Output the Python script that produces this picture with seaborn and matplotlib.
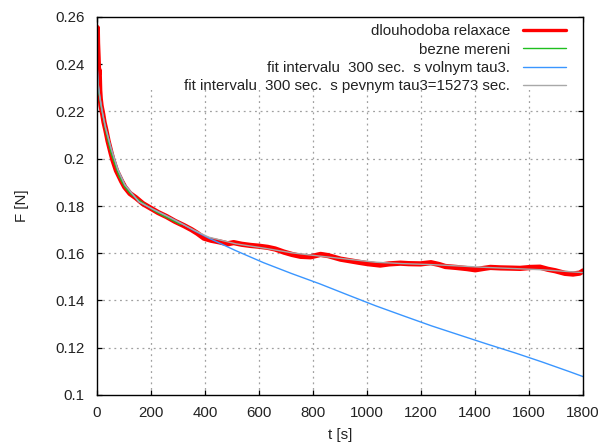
import matplotlib
matplotlib.use("Agg")
import matplotlib.pyplot as plt
import seaborn as sns
import pandas as pd
from matplotlib.patches import Rectangle

# ---- data ----
t_long = [0, 1, 2, 4, 6, 8, 10, 12, 15, 21, 26, 33, 41, 52, 59, 72, 91, 103, 122,
          144, 170, 200, 227, 258, 289, 322, 350, 371, 396, 423, 454, 484, 506, 536,
          569, 598, 632, 660, 692, 722, 754, 791, 828, 856, 902, 938, 969, 1002, 1049,
          1082, 1124, 1154, 1198, 1237, 1268, 1290, 1330, 1371, 1401, 1433, 1457,
          1495, 1536, 1567, 1608, 1641, 1670, 1697, 1733, 1763, 1788, 1800]
F_long = [0.242, 0.2555, 0.249, 0.243, 0.236, 0.2375, 0.229, 0.2255, 0.2225, 0.219,
          0.2155, 0.212, 0.2075, 0.2025, 0.1995, 0.195, 0.1905, 0.188, 0.1853,
          0.1835, 0.181, 0.179, 0.1772, 0.1755, 0.1735, 0.1717, 0.1700, 0.1685,
          0.1664, 0.1655, 0.1648, 0.1640, 0.1645, 0.1638, 0.1633, 0.1630, 0.1625,
          0.1618, 0.1605, 0.1595, 0.1587, 0.1585, 0.1595, 0.1590, 0.1575, 0.1568,
          0.1562, 0.1556, 0.1550, 0.1555, 0.1558, 0.1556, 0.1555, 0.1560, 0.1552,
          0.1544, 0.1540, 0.1535, 0.1530, 0.1536, 0.1540, 0.1538, 0.1537, 0.1536,
          0.1540, 0.1541, 0.1532, 0.1526, 0.1515, 0.1512, 0.1516, 0.1525]

t_short = [0, 3, 6, 10, 15, 21, 31, 41, 52, 62, 82, 103, 124, 155, 186, 216, 247, 278, 309]
F_short = [0.236, 0.232, 0.228, 0.226, 0.222, 0.219, 0.2125, 0.2075, 0.2025, 0.199,
           0.1925, 0.188, 0.1852, 0.1825, 0.1800, 0.1777, 0.1758, 0.1740, 0.1722]

t_fit = [0, 5, 10, 21, 31, 52, 77, 103, 155, 206, 258, 309, 361, 414, 514, 617, 721,
         824, 928, 1031, 1135, 1238, 1342, 1441, 1549, 1648, 1752, 1800]
F_fit_free = [0.2400, 0.2310, 0.2265, 0.2190, 0.2135, 0.2045, 0.1955, 0.1890, 0.1818,
              0.1787, 0.1758, 0.1728, 0.1695, 0.1664, 0.1611, 0.1560, 0.1514, 0.1471,
              0.1424, 0.1378, 0.1335, 0.1293, 0.1254, 0.1217, 0.1178, 0.1140, 0.1098,
              0.1078]
F_fit_fixed = [0.2400, 0.2310, 0.2265, 0.2190, 0.2135, 0.2045, 0.1955, 0.1890, 0.1818,
               0.1787, 0.1758, 0.1728, 0.1697, 0.1668, 0.1640, 0.1622, 0.1602, 0.1588,
               0.1575, 0.1562, 0.1556, 0.1552, 0.1546, 0.1540, 0.1535, 0.1530, 0.1522,
               0.1518]

labels = ["dlouhodoba relaxace", "bezne mereni",
          "fit intervalu  300 sec.  s volnym tau3.",
          "fit intervalu  300 sec.  s pevnym tau3=15273 sec."]
x_ticks = [0, 200, 400, 600, 800, 1000, 1200, 1400, 1600, 1800]
y_ticks = [0.1, 0.12, 0.14, 0.16, 0.18, 0.2, 0.22, 0.24, 0.26]
y_ticklabels = ["0.1", "0.12", "0.14", "0.16", "0.18", "0.2", "0.22", "0.24", "0.26"]

# ---- style ----
sns.set_style("ticks")
plt.rcParams["font.family"] = ["Liberation Sans", "DejaVu Sans"]
FS = 10.8
plt.rcParams["font.size"] = FS

fig = plt.figure(figsize=(6.0, 4.48), dpi=100)
ax = fig.add_axes([97/600, 1-395/448, 486/600, 378/448])

d_long = pd.DataFrame({"t": t_long, "F": F_long})
d_short = pd.DataFrame({"t": t_short, "F": F_short})
d_free = pd.DataFrame({"t": t_fit, "F": F_fit_free})
d_fixed = pd.DataFrame({"t": t_fit, "F": F_fit_fixed})

sns.lineplot(data=d_long, x="t", y="F", ax=ax, color="#ff0000", lw=3.8,
             label=labels[0], zorder=3, estimator=None, sort=False)
sns.lineplot(data=d_short, x="t", y="F", ax=ax, color="#1fbf1f", lw=1.0,
             label=labels[1], zorder=4, estimator=None, sort=False)
sns.lineplot(data=d_free, x="t", y="F", ax=ax, color="#3a96ff", lw=1.0,
             label=labels[2], zorder=5, estimator=None, sort=False)
sns.lineplot(data=d_fixed, x="t", y="F", ax=ax, color="#a8a8a8", lw=1.0,
             label=labels[3], zorder=5, estimator=None, sort=False)

ax.set_xlim(0, 1800)
ax.set_ylim(0.1, 0.26)
ax.set_xticks(x_ticks)
ax.set_yticks(y_ticks)
ax.set_yticklabels(y_ticklabels)

# grid (dotted) only at inner ticks
for xv in x_ticks[1:-1]:
    ax.axvline(xv, color="#a0a0a0", lw=0.9, ls=(0, (1.5, 3)), zorder=0.5)
for yv in y_ticks[1:-1]:
    ax.axhline(yv, color="#a0a0a0", lw=0.9, ls=(0, (1.5, 3)), zorder=0.5)

# opaque key area
ax.add_patch(Rectangle((0.012, 0.807), 0.988, 0.193, transform=ax.transAxes,
                       facecolor="white", edgecolor="none", zorder=1))

ax.tick_params(direction="in", length=3.8, width=0.9, top=True, right=True,
               colors="black", labelcolor="#222222", labelsize=FS)
ax.tick_params(axis="y", pad=9)
ax.tick_params(axis="x", pad=8)
for s in ax.spines.values():
    s.set_linewidth(1.0)
    s.set_color("black")
    s.set_zorder(6)

ax.set_xlabel("t [s]", fontsize=FS, color="#222222", labelpad=6)
ax.set_ylabel("F [N]", fontsize=FS, color="#222222", labelpad=19)

leg = ax.legend(loc="upper right", bbox_to_anchor=(0.965, 0.981), frameon=False,
                markerfirst=False, handlelength=2.87, handletextpad=0.87,
                labelspacing=0.29, borderpad=0, borderaxespad=0, fontsize=FS)
for txt in leg.get_texts():
    txt.set_color("#222222")
leg.legend_handles[0].set_linewidth(2.4)
leg.set_zorder(7)

fig.savefig("out.png", dpi=100)
